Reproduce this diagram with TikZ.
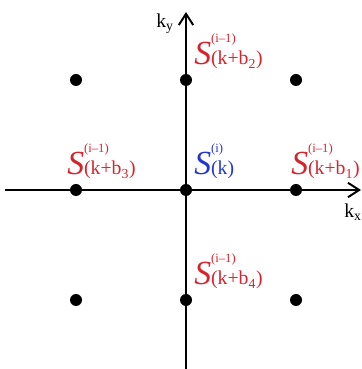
\documentclass[tikz,border=0pt]{standalone}
\usepackage{fontspec}
\setmainfont{Liberation Serif}
\usetikzlibrary{arrows.meta}
\definecolor{sred}{RGB}{215,35,45}
\definecolor{sblue}{RGB}{35,55,205}
\newcommand{\sterm}[2]{{\fontsize{24}{24}\selectfont\itshape S}%
 \rlap{\raisebox{16pt}{\fontsize{9}{9}\selectfont(#1)}}%
 \fontsize{14}{14}\selectfont(#2)}
\begin{document}
\begin{tikzpicture}[x=0.025cm,y=0.025cm,
 dot/.style={circle,fill=black,minimum size=0.3cm,inner sep=0pt},
 axis/.style={line width=1.4pt,-{Straight Barb[length=2.8mm,width=3.6mm,line width=1.4pt]}},
 lab/.style={anchor=base west,inner sep=0pt},
 klab/.style={font=\fontsize{14}{14}\selectfont,inner sep=0pt}]
 \useasboundingbox (0,0) rectangle (362,369);
 % lattice points
 \foreach \i/\x in {1/76,2/186,3/296}
  \foreach \j/\y in {1/69,2/179,3/289}
   \node[dot] (d\i\j) at (\x,\y) {};
 % axes
 \coordinate (xl) at (5,179);
 \coordinate (xr) at (361,179);
 \coordinate (yb) at (186,0);
 \coordinate (yt) at (186,357);
 \draw[axis] (xl) -- (xr);
 \draw[axis] (yb) -- (yt);
 \node[klab] (kx) at (353,157) {k\textsubscript{x}};
 \node[klab] (ky) at (165,345) {k\textsubscript{y}};
 % labels
 \node[lab,text=sblue] (l0) at ([shift={(8,15)}]d22) {\sterm{i}{k}};
 \node[lab,text=sred] (l1) at ([shift={(-5,15)}]d32) {\sterm{i\textendash1}{k+b\textsubscript{1}}};
 \node[lab,text=sred] (l2) at ([shift={(8,15)}]d23) {\sterm{i\textendash1}{k+b\textsubscript{2}}};
 \node[lab,text=sred] (l3) at ([shift={(-9,15)}]d12) {\sterm{i\textendash1}{k+b\textsubscript{3}}};
 \node[lab,text=sred] (l4) at ([shift={(8,15)}]d21) {\sterm{i\textendash1}{k+b\textsubscript{4}}};
\end{tikzpicture}
\end{document}
